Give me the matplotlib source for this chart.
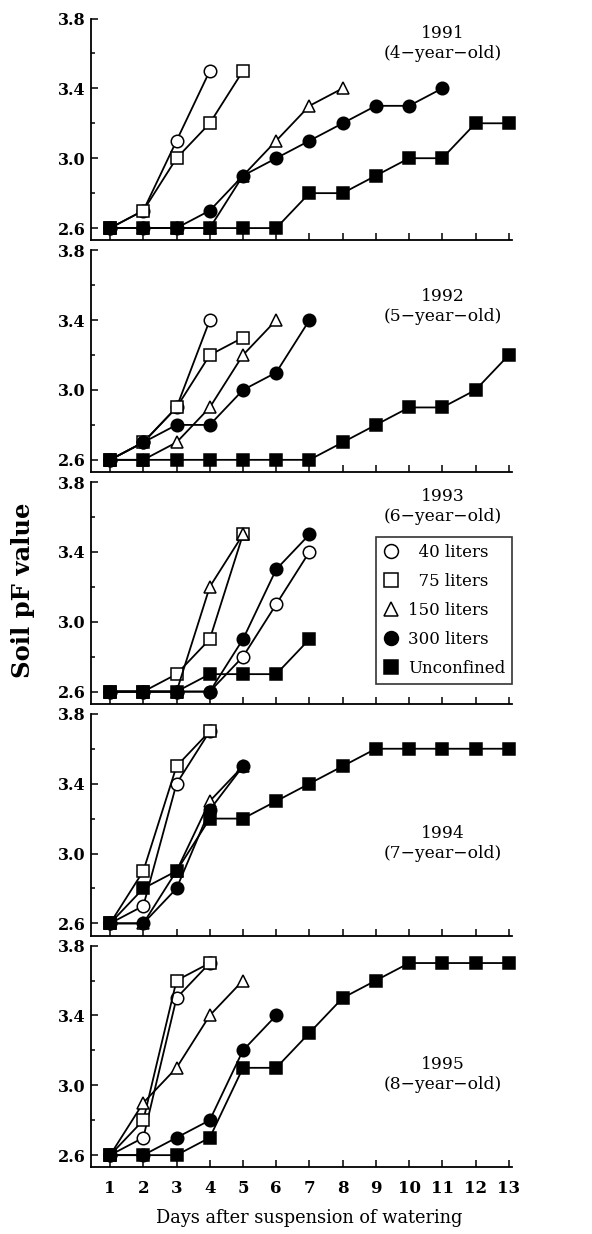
import numpy as np
import matplotlib
matplotlib.use("Agg")
from matplotlib import pyplot as plt
from matplotlib.ticker import MultipleLocator
from matplotlib.lines import Line2D

plt.rcParams['font.family'] = ['DejaVu Serif']

days = np.arange(1, 14)
years = ['1991', '1992', '1993', '1994', '1995']
ages = ['(4\u2212year\u2212old)', '(5\u2212year\u2212old)', '(6\u2212year\u2212old)',
        '(7\u2212year\u2212old)', '(8\u2212year\u2212old)']
series_names = ['  40 liters', '  75 liters', '150 liters', '300 liters', 'Unconfined']

# soil pF per treatment, one list per year (starting at day 1)
pf_40 = [[2.6, 2.7, 3.1, 3.5],
         [2.6, 2.7, 2.9, 3.4],
         [2.6, 2.6, 2.6, 2.6, 2.8, 3.1, 3.4],
         [2.6, 2.7, 3.4, 3.7],
         [2.6, 2.7, 3.5, 3.7]]
pf_75 = [[2.6, 2.7, 3.0, 3.2, 3.5],
         [2.6, 2.7, 2.9, 3.2, 3.3],
         [2.6, 2.6, 2.7, 2.9, 3.5],
         [2.6, 2.9, 3.5, 3.7],
         [2.6, 2.8, 3.6, 3.7]]
pf_150 = [[2.6, 2.6, 2.6, 2.6, 2.9, 3.1, 3.3, 3.4],
          [2.6, 2.6, 2.7, 2.9, 3.2, 3.4],
          [2.6, 2.6, 2.6, 3.2, 3.5],
          [2.6, 2.6, 2.9, 3.3, 3.5],
          [2.6, 2.9, 3.1, 3.4, 3.6]]
pf_300 = [[2.6, 2.6, 2.6, 2.7, 2.9, 3.0, 3.1, 3.2, 3.3, 3.3, 3.4],
          [2.6, 2.7, 2.8, 2.8, 3.0, 3.1, 3.4],
          [2.6, 2.6, 2.6, 2.6, 2.9, 3.3, 3.5],
          [2.6, 2.6, 2.8, 3.25, 3.5],
          [2.6, 2.6, 2.7, 2.8, 3.2, 3.4]]
pf_unconf = [[2.6, 2.6, 2.6, 2.6, 2.6, 2.6, 2.8, 2.8, 2.9, 3.0, 3.0, 3.2, 3.2],
             [2.6, 2.6, 2.6, 2.6, 2.6, 2.6, 2.6, 2.7, 2.8, 2.9, 2.9, 3.0, 3.2],
             [2.6, 2.6, 2.6, 2.7, 2.7, 2.7, 2.9],
             [2.6, 2.8, 2.9, 3.2, 3.2, 3.3, 3.4, 3.5, 3.6, 3.6, 3.6, 3.6, 3.6],
             [2.6, 2.6, 2.6, 2.7, 3.1, 3.1, 3.3, 3.5, 3.6, 3.7, 3.7, 3.7, 3.7]]

# label position (axes fraction) of the year text in each panel
txt_y = [0.887, 0.745, 0.89, 0.415, 0.42]

styles = [dict(marker='o', mfc='white'),   # 40
          dict(marker='s', mfc='white'),   # 75
          dict(marker='^', mfc='white'),   # 150
          dict(marker='o', mfc='black'),   # 300
          dict(marker='s', mfc='black')]   # unconfined
draw_order = [1, 0, 2, 3, 4]

fig, axes = plt.subplots(5, 1, figsize=(5.92, 12.34), dpi=100, sharex=True)
fig.subplots_adjust(left=0.154, right=0.865, top=0.985, bottom=0.054, hspace=0.045)

all_series = [pf_40, pf_75, pf_150, pf_300, pf_unconf]
for i, ax in enumerate(axes):
    for k in draw_order:
        vals = all_series[k][i]
        ax.plot(days[:len(vals)], vals, color='black', lw=1.3, ms=9,
                mec='black', mew=1.1, zorder=3 + k, clip_on=False, **styles[k])
    ax.set_xlim(0.43, 13.1)
    ax.set_ylim(2.53, 3.8)
    ax.yaxis.set_minor_locator(MultipleLocator(0.2))
    ax.set_yticks([2.6, 3.0, 3.4, 3.8])
    ax.set_xticks(days)
    ax.spines['top'].set_visible(False)
    ax.spines['right'].set_visible(False)
    ax.spines['left'].set_linewidth(1.3)
    ax.spines['bottom'].set_linewidth(1.3)
    ax.tick_params(which='both', direction='in', width=1.1)
    ax.tick_params(which='major', length=5, labelsize=11.5, pad=4)
    ax.tick_params(which='minor', length=3)
    for lab in ax.get_yticklabels():
        lab.set_fontweight('bold')
    ax.text(0.836, txt_y[i], years[i] + '\n' + ages[i], transform=ax.transAxes,
            ha='center', va='center', fontsize=12.3, linespacing=1.25)
    if i == 2:
        proxies = [Line2D([], [], ls='none', color='black', ms=10, mec='black',
                          mew=1.1, **styles[k]) for k in range(5)]
        leg = ax.legend(proxies, series_names, loc='upper right',
                        bbox_to_anchor=(1.0, 0.75), frameon=True, fancybox=False,
                        edgecolor='black', fontsize=12, handlelength=0.9,
                        handletextpad=0.6, labelspacing=0.72, borderpad=0.4,
                        borderaxespad=0.0)
        leg.get_frame().set_linewidth(1.2)
    if i < 4:
        ax.tick_params(axis='x', labelbottom=False)

for lab in axes[-1].get_xticklabels():
    lab.set_fontweight('bold')
axes[-1].tick_params(axis='x', labelsize=12, pad=9)

fig.text(0.039, 0.522, 'Soil pF value', rotation=90, ha='center', va='center',
         fontsize=17.5, fontweight='bold')
fig.text(0.523, 0.013, 'Days after suspension of watering', ha='center', va='center',
         fontsize=12.8)

fig.savefig('out.png', dpi=100)
